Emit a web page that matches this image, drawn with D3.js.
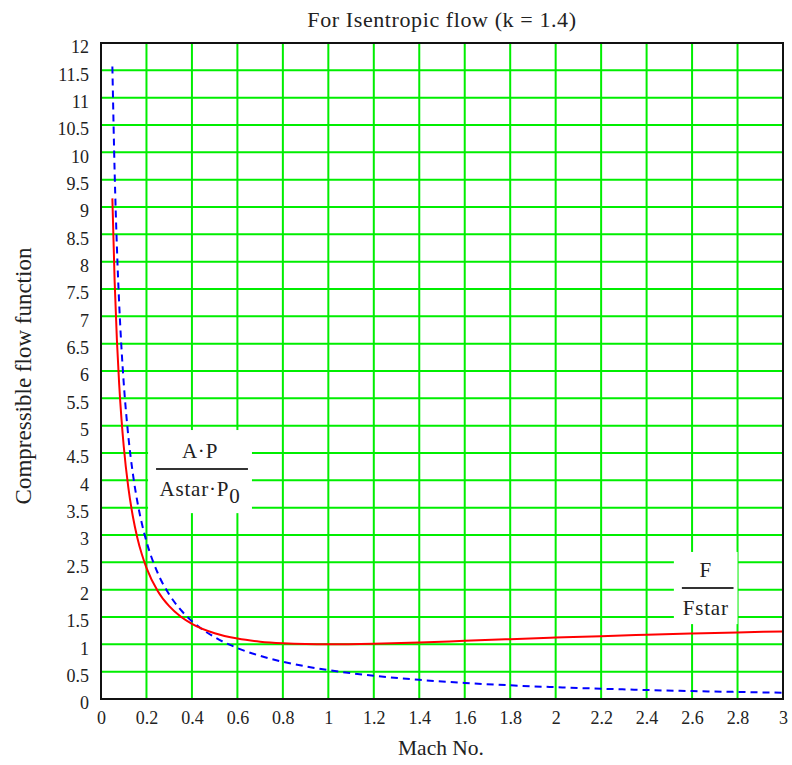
<!DOCTYPE html>
<html><head><meta charset="utf-8">
<script src="https://cdn.jsdelivr.net/npm/d3@7"></script>
<style>body{margin:0;background:#fff}svg{display:block}text{font-family:"Liberation Serif","Times New Roman",serif;fill:#222}</style>
</head><body><svg id="c" width="792" height="765"></svg>
<script>
const mach = [0.05,0.06,0.07,0.08,0.09,0.1,0.12,0.14,0.16,0.18,0.2,0.25,0.3,0.35,0.4,0.5,0.6,0.7,0.8,0.9,1.0,1.2,1.4,1.6,1.8,2.0,2.2,2.4,2.6,2.8,3.0];
const impulseRatio = [9.158,7.643,6.562,5.753,5.125,4.624,3.875,3.343,2.947,2.642,2.400,1.973,1.698,1.509,1.375,1.203,1.105,1.049,1.019,1.004,1.000,1.011,1.035,1.064,1.094,1.123,1.150,1.175,1.198,1.218,1.237];
const areaPressureRatio = [11.571,9.642,8.263,7.229,6.425,5.781,4.816,4.126,3.608,3.205,2.882,2.300,1.912,1.634,1.424,1.130,0.932,0.789,0.681,0.597,0.528,0.425,0.350,0.294,0.250,0.216,0.188,0.164,0.145,0.129,0.115];
const xTicks = [0,0.2,0.4,0.6,0.8,1,1.2,1.4,1.6,1.8,2,2.2,2.4,2.6,2.8,3];
const yTicks = [0,0.5,1,1.5,2,2.5,3,3.5,4,4.5,5,5.5,6,6.5,7,7.5,8,8.5,9,9.5,10,10.5,11,11.5,12];

const svg = d3.select("#c");
const L=101,R=783,T=43,B=699;
const x = d3.scaleLinear().domain([0,3]).range([L,R]);
const y = d3.scaleLinear().domain([0,12]).range([B,T]);
const fmt = d=>String(d);

// grid
const g = svg.append("g");
g.selectAll(".vx").data(xTicks).join("line").attr("x1",d=>x(d)).attr("x2",d=>x(d)).attr("y1",T).attr("y2",B).attr("stroke","#00ee00").attr("stroke-width",2);
g.selectAll(".hy").data(yTicks).join("line").attr("x1",L).attr("x2",R).attr("y1",d=>y(d)).attr("y2",d=>y(d)).attr("stroke","#00ee00").attr("stroke-width",2);

// axes labels
const xa = svg.append("g").attr("transform",`translate(0,${B})`).call(d3.axisBottom(x).tickValues(xTicks).tickFormat(fmt).tickSize(0).tickPadding(12));
xa.select(".domain").remove();
xa.selectAll("text").attr("font-size",18).style("font-family","Liberation Serif").attr("fill","#222");
const ya = svg.append("g").attr("transform",`translate(${L},4)`).call(d3.axisLeft(y).tickValues(yTicks).tickFormat(fmt).tickSize(0).tickPadding(12));
ya.select(".domain").remove();
ya.selectAll("text").attr("font-size",18).style("font-family","Liberation Serif").attr("fill","#222");

// curves
const line = d3.line().x((d,i)=>x(mach[i])).y(d=>y(d)).curve(d3.curveMonotoneX);
svg.append("path").datum(areaPressureRatio).attr("d",line).attr("fill","none").attr("stroke","#0000ff").attr("stroke-width",2).attr("stroke-dasharray","7,5");
svg.append("path").datum(impulseRatio).attr("d",line).attr("fill","none").attr("stroke","#ff0000").attr("stroke-width",2);

// frame
svg.append("rect").attr("x",L).attr("y",T).attr("width",R-L).attr("height",B-T).attr("fill","none").attr("stroke","#111").attr("stroke-width",2);

// fraction labels
function frac(x0,x1,y0,y1,f,num,den,sub){
  const px0=x(x0),px1=x(x1),py0=y(y0),py1=y(y1),cx=(px0+px1)/2;
  svg.append("rect").attr("x",px0).attr("y",py0).attr("width",px1-px0).attr("height",py1-py0).attr("fill","#fff");
  const ly=py0+(py1-py0)*f;
  svg.append("text").attr("x",cx).attr("y",ly-11).attr("text-anchor","middle").attr("font-size",21).attr("letter-spacing",0.8).text(num);
  svg.append("line").attr("x1",px0+8).attr("x2",px1-4).attr("y1",ly).attr("y2",ly).attr("stroke","#333").attr("stroke-width",2);
  const t=svg.append("text").attr("x",cx).attr("y",ly+27).attr("text-anchor","middle").attr("font-size",21).attr("letter-spacing",0.8).text(den);
  if(sub) t.append("tspan").attr("dy",7).text(sub);
}
frac(0.207,0.664,4.92,3.40,0.47,"A·P","Astar·P","0");
frac(2.52,2.80,2.69,1.37,0.5,"F","Fstar",null);

// titles
svg.append("text").attr("x",442).attr("y",27).attr("text-anchor","middle").attr("font-size",22).attr("letter-spacing",0.6).text("For Isentropic flow (k = 1.4)");
svg.append("text").attr("x",441).attr("y",755).attr("text-anchor","middle").attr("font-size",21.5).text("Mach No.");
svg.append("text").attr("transform","translate(31,376) rotate(-90)").attr("text-anchor","middle").attr("font-size",23).text("Compressible flow function");
</script></body></html>
